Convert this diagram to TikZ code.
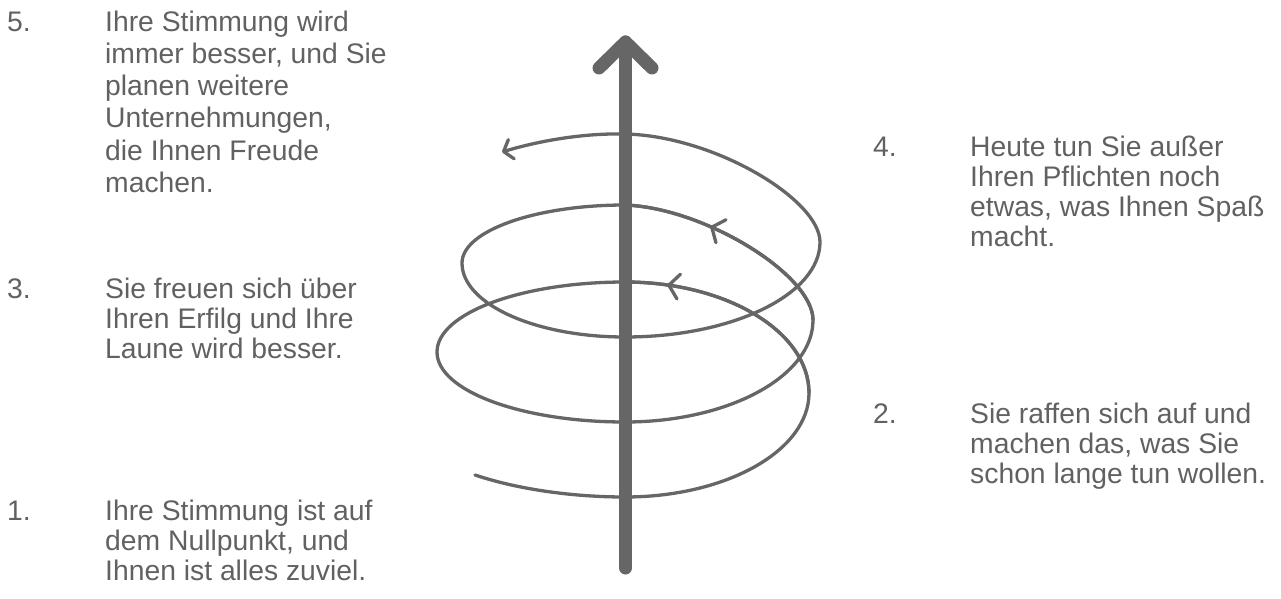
\documentclass[tikz,border=0pt]{standalone}
\usepackage{fontspec}
\setmainfont{Liberation Sans}
\usetikzlibrary{arrows.meta,decorations.markings}
\definecolor{ink}{HTML}{666666}
\definecolor{txtc}{HTML}{616161}
\begin{document}
\begin{tikzpicture}[x=1pt,y=-1pt,
  txt/.style={anchor=base west, inner sep=0pt, text=txtc, font=\fontsize{28.3}{30}\selectfont},
  spiral/.style={draw=ink, line width=3.3pt, line cap=round, line join=round},
  midtip/.style={postaction={decorate}, decoration={markings, mark=at position #1 with {\arrow{Straight Barb[length=10pt,width=25pt,round]}}}},
  shaft/.style={draw=ink, line width=13pt, line cap=round, line join=round}
]
\useasboundingbox (0,0) rectangle (1281,599);

% spiral
\coordinate (s0) at (475,475);
\coordinate (f1) at (625,497);
\coordinate (r1) at (809,393);
\coordinate (b1) at (625,282);
\coordinate (l1) at (437,352);
\coordinate (f2) at (625,422);
\coordinate (r2) at (813,320);
\coordinate (b2) at (625,205);
\coordinate (l2) at (462,263);
\coordinate (f3) at (625,337);
\coordinate (r3) at (820,242);
\coordinate (b3) at (625,134);
\coordinate (e)  at (502,152);

\draw[spiral, -{Straight Barb[length=8pt,width=20pt,round]}]
  (s0) .. controls (520,490) and (575,497) .. (f1)
       .. controls (726.6,497) and (809,450.4) .. (r1)
       .. controls (809,331.7) and (726.6,282) .. (b1)
       .. controls (521.2,282) and (437,313.3) .. (l1)
       .. controls (437,390.7) and (521.2,422) .. (f2)
       .. controls (728.8,422) and (813,376.3) .. (r2)
       .. controls (813,275) and (705,208) .. (b2)
       .. controls (535,205) and (462,231) .. (l2)
       .. controls (462,304) and (535,337) .. (f3)
       .. controls (732.7,337) and (820,294.5) .. (r3)
       .. controls (820,200) and (715,136) .. (b3)
       .. controls (580,133) and (535,142) .. (e);

\draw[spiral, midtip=0.82] (r1) .. controls (809,331.7) and (726.6,282) .. (b1);
\draw[spiral, midtip=0.62] (r2) .. controls (813,275) and (705,208) .. (b2);

% main arrow
\coordinate (top) at (625.5,42);
\coordinate (bot) at (625.5,568);
\coordinate (hl) at (599,68);
\coordinate (hr) at (652,68);
\draw[shaft] (bot) -- (top);
\draw[shaft] (hl) -- (top) -- (hr);

% left texts
\node[txt] (n5) at (7,32) {5.};
\node[txt] (t5a) at (105,32) {Ihre Stimmung wird};
\node[txt] (t5b) at (105,64) {immer besser, und Sie};
\node[txt] (t5c) at (105,96) {planen weitere};
\node[txt] (t5d) at (105,128) {Unternehmungen,};
\node[txt] (t5e) at (105,160) {die Ihnen Freude};
\node[txt] (t5f) at (105,192) {machen.};

\node[txt] (n3) at (7,298) {3.};
\node[txt] (t3a) at (105,298) {Sie freuen sich über};
\node[txt] (t3b) at (105,328) {Ihren Erfilg und Ihre};
\node[txt] (t3c) at (105,358) {Laune wird besser.};

\node[txt] (n1) at (7,520) {1.};
\node[txt] (t1a) at (105,520) {Ihre Stimmung ist auf};
\node[txt] (t1b) at (105,550) {dem Nullpunkt, und};
\node[txt] (t1c) at (105,580) {Ihnen ist alles zuviel.};

% right texts
\node[txt] (n4) at (873,156) {4.};
\node[txt] (t4a) at (970,156) {Heute tun Sie außer};
\node[txt] (t4b) at (970,186) {Ihren Pflichten noch};
\node[txt] (t4c) at (970,216) {etwas, was Ihnen Spaß};
\node[txt] (t4d) at (970,246) {macht.};

\node[txt] (n2) at (873,423) {2.};
\node[txt] (t2a) at (970,423) {Sie raffen sich auf und};
\node[txt] (t2b) at (970,453) {machen das, was Sie};
\node[txt] (t2c) at (970,483) {schon lange tun wollen.};
\end{tikzpicture}
\end{document}
